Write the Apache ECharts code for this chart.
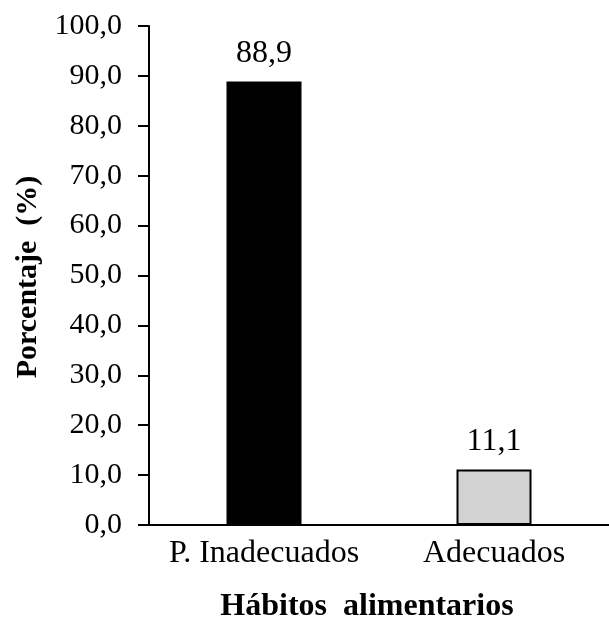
<!DOCTYPE html>
<html>
<head>
<meta charset="utf-8">
<script src="https://cdn.jsdelivr.net/npm/echarts@6/dist/echarts.min.js"></script>
<style>
  html, body { margin: 0; padding: 0; background: #ffffff; }
  #chart { width: 609px; height: 624px; }
</style>
</head>
<body>
<div id="chart"></div>
<script>
// Hábitos alimentarios: porcentaje por categoría
const categories = ['P. Inadecuados', 'Adecuados'];
const values = [88.9, 11.1];
const barColors = ['#000000', '#d2d2d2'];
const yMin = 0, yMax = 100, yStep = 10;
const xTitle = 'Hábitos  alimentarios';
const yTitle = 'Porcentaje  (%)';

const FONT = '"Liberation Serif", "Times New Roman", serif';
const fmt = v => v.toFixed(1).replace('.', ',');

const chart = echarts.init(document.getElementById('chart'), null, { renderer: 'canvas' });

chart.setOption({
  backgroundColor: '#ffffff',
  animation: false,
  // plot area runs slightly past the right edge of the canvas
  grid: { left: 149, top: 26, right: -6, bottom: 99, containLabel: false },
  xAxis: {
    type: 'category',
    data: categories,
    axisLine: { lineStyle: { color: '#000', width: 2 } },
    axisTick: { show: false },
    axisLabel: {
      color: '#000', fontFamily: FONT, fontSize: 32, margin: 13,
      interval: 0, hideOverlap: false
    }
  },
  yAxis: {
    type: 'value',
    min: yMin, max: yMax, interval: yStep,
    axisLine: { show: true, lineStyle: { color: '#000', width: 2 } },
    axisTick: { show: true, length: 11, lineStyle: { color: '#000', width: 2 } },
    splitLine: { show: false },
    axisLabel: { color: '#000', fontFamily: FONT, fontSize: 30, margin: 27, formatter: fmt }
  },
  series: [{
    type: 'bar',
    barWidth: 75,
    data: values.map((v, i) => ({
      value: v,
      itemStyle: { color: barColors[i], borderColor: '#000', borderWidth: 2 }
    })),
    label: {
      show: true, position: 'top', distance: 12,
      color: '#000', fontFamily: FONT, fontSize: 32,
      formatter: p => fmt(p.value)
    }
  }],
  graphic: [
    {
      type: 'text', x: 367, y: 607,
      style: { text: xTitle, fill: '#000', font: 'bold 32px ' + FONT, align: 'center', verticalAlign: 'middle' }
    },
    {
      type: 'text', x: 28, y: 277, rotation: Math.PI / 2,
      style: { text: yTitle, fill: '#000', font: 'bold 30px ' + FONT, align: 'center', verticalAlign: 'middle' }
    }
  ]
});
</script>
</body>
</html>
